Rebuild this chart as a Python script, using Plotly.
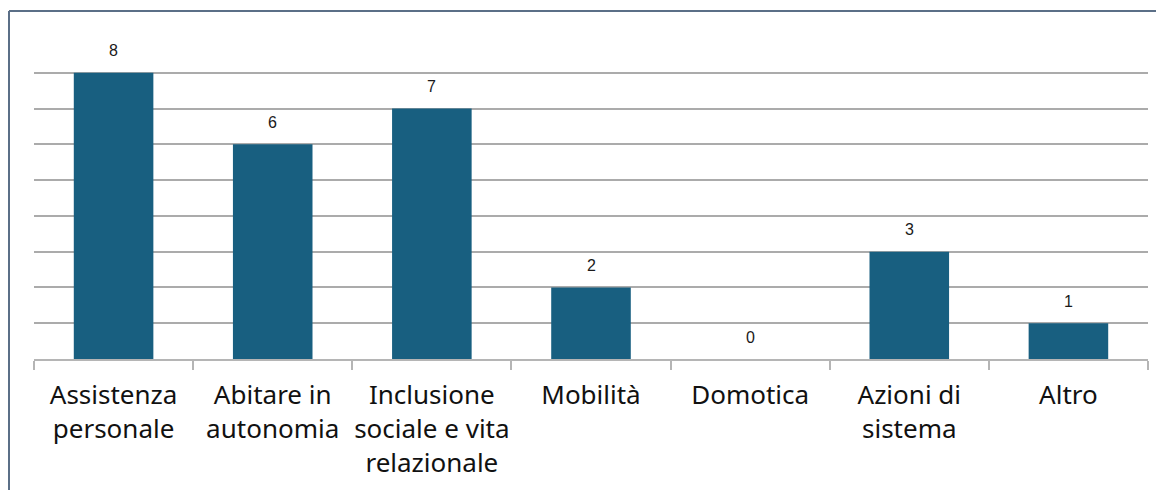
import plotly.graph_objects as go

categories = ["Assistenza<br>personale", "Abitare in<br>autonomia", "Inclusione<br>sociale e vita<br>relazionale",
              "Mobilità", "Domotica", "Azioni di<br>sistema", "Altro"]
values = [8, 6, 7, 2, 0, 3, 1]
label_texts = [str(v) for v in values]

BAR_COLOR = "#185F80"

fig = go.Figure()
fig.add_trace(go.Bar(x=categories, y=values, marker=dict(color=BAR_COLOR, line=dict(width=0)),
                     width=0.5, hoverinfo="skip"))

for c, v, t in zip(categories, values, label_texts):
    fig.add_annotation(x=c, y=v, text=t, showarrow=False, yshift=22, yanchor="middle",
                       font=dict(family="Liberation Sans, Arial", size=16, color="#1a1a1a"))

W, H = 1156, 490
L, R, T, B = 34, 8, 37, 131
pw, ph = W - L - R, H - T - B

def px(x):
    return (x - L) / pw

def py(y):
    return (H - B - y) / ph

# outer frame (left and top edges)
fig.add_shape(type="line", xref="paper", yref="paper", x0=px(9), x1=px(9), y0=py(11), y1=py(495),
              line=dict(color="#5B6F87", width=2))
fig.add_shape(type="line", xref="paper", yref="paper", x0=px(9), x1=px(1160), y0=py(11), y1=py(11),
              line=dict(color="#5B6F87", width=2))

fig.update_layout(
    width=W, height=H,
    margin=dict(l=L, r=R, t=T, b=B, pad=0),
    paper_bgcolor="white", plot_bgcolor="white",
    showlegend=False,
    bargap=0.5,
    xaxis=dict(type="category", showline=True, linecolor="#B5B5B5", linewidth=1.5,
               ticks="outside", tickson="boundaries", ticklen=9, tickcolor="#B5B5B5", tickwidth=1.5,
               tickfont=dict(family="Noto Sans", size=26, color="#111111"),
               ticklabelstandoff=12,
               showgrid=False, zeroline=False, tickangle=0),
    yaxis=dict(range=[0, 9], dtick=1, showticklabels=False, showgrid=True, gridcolor="#ABABAB",
               gridwidth=1.5, zeroline=False, showline=False, ticks=""),
)

fig.write_html("out.html", config={"displayModeBar": False},
               post_script="document.body.style.margin='0';document.body.style.overflow='hidden';")
